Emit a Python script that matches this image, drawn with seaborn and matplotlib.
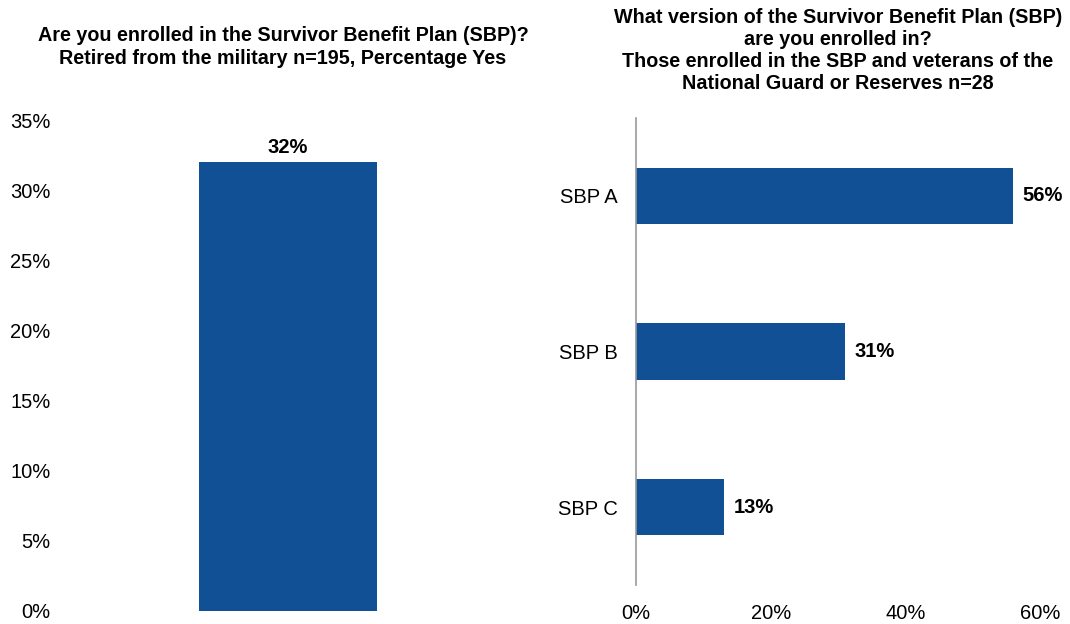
import matplotlib
matplotlib.use("Agg")
import matplotlib.pyplot as plt
import seaborn as sns
import pandas as pd
from matplotlib.ticker import FuncFormatter

sns.set_theme(style="white")
plt.rcParams['font.family'] = ['Liberation Sans', 'DejaVu Sans']
plt.rcParams['text.color'] = 'black'

# Data
left_categories = ["Yes"]
left_values = [32]
right_categories = ["SBP A", "SBP B", "SBP C"]
right_values = [56, 31, 13]

left_title = "Are you enrolled in the Survivor Benefit Plan (SBP)?\nRetired from the military n=195, Percentage Yes"
right_title = ("What version of the Survivor Benefit Plan (SBP)\nare you enrolled in?\n"
               "Those enrolled in the SBP and veterans of the\nNational Guard or Reserves n=28")

BLUE = "#115094"
W, H = 1070, 624
fig = plt.figure(figsize=(W / 100, H / 100), dpi=100)

# Left chart
axL = fig.add_axes([60 / W, 1 - 611 / H, 456 / W, (611 - 120) / H])
dfL = pd.DataFrame({"cat": left_categories, "val": left_values})
sns.barplot(data=dfL, x="cat", y="val", color=BLUE, width=0.39, ax=axL,
            saturation=1, linewidth=0)
axL.set_ylim(0, 35)
axL.set_yticks(range(0, 36, 5))
axL.yaxis.set_major_formatter(FuncFormatter(lambda v, p: f"{int(v)}%"))
axL.set_xticks([])
axL.set_xlabel("")
axL.set_ylabel("")
for s in axL.spines.values():
    s.set_visible(False)
axL.tick_params(axis="y", length=0, pad=7, labelsize=14.5, labelcolor="black")
for c in axL.containers:
    axL.bar_label(c, labels=[f"{v}%" for v in left_values], padding=4,
                  fontsize=14.5, fontweight="bold", color="black")

# Right chart
axR = fig.add_axes([636 / W, 1 - 585 / H, 404 / W, (585 - 118) / H])
dfR = pd.DataFrame({"cat": right_categories, "val": right_values})
sns.barplot(data=dfR, y="cat", x="val", color=BLUE, width=0.36, ax=axR,
            saturation=1, orient="h", linewidth=0)
axR.set_xlim(0, 60)
axR.set_xticks([0, 20, 40, 60])
axR.xaxis.set_major_formatter(FuncFormatter(lambda v, p: f"{int(v)}%"))
axR.set_xlabel("")
axR.set_ylabel("")
for name, s in axR.spines.items():
    if name == "left":
        s.set_visible(True)
        s.set_color("#999999")
        s.set_linewidth(1.2)
    else:
        s.set_visible(False)
axR.tick_params(axis="x", length=0, pad=14, labelsize=14.5, labelcolor="black")
axR.tick_params(axis="y", length=0, pad=13, labelsize=14.5, labelcolor="black")
for c in axR.containers:
    axR.bar_label(c, labels=[f"{v}%" for v in right_values], padding=7,
                  fontsize=14.5, fontweight="bold", color="black")

fig.text(283 / W, 1 - 47 / H, left_title, ha="center", va="center",
         fontsize=14.2, fontweight="bold", linespacing=1.22)
fig.text(838 / W, 1 - 50.5 / H, right_title, ha="center", va="center",
         fontsize=14.2, fontweight="bold", linespacing=1.22)

fig.savefig("out.png", dpi=100, facecolor="white")
